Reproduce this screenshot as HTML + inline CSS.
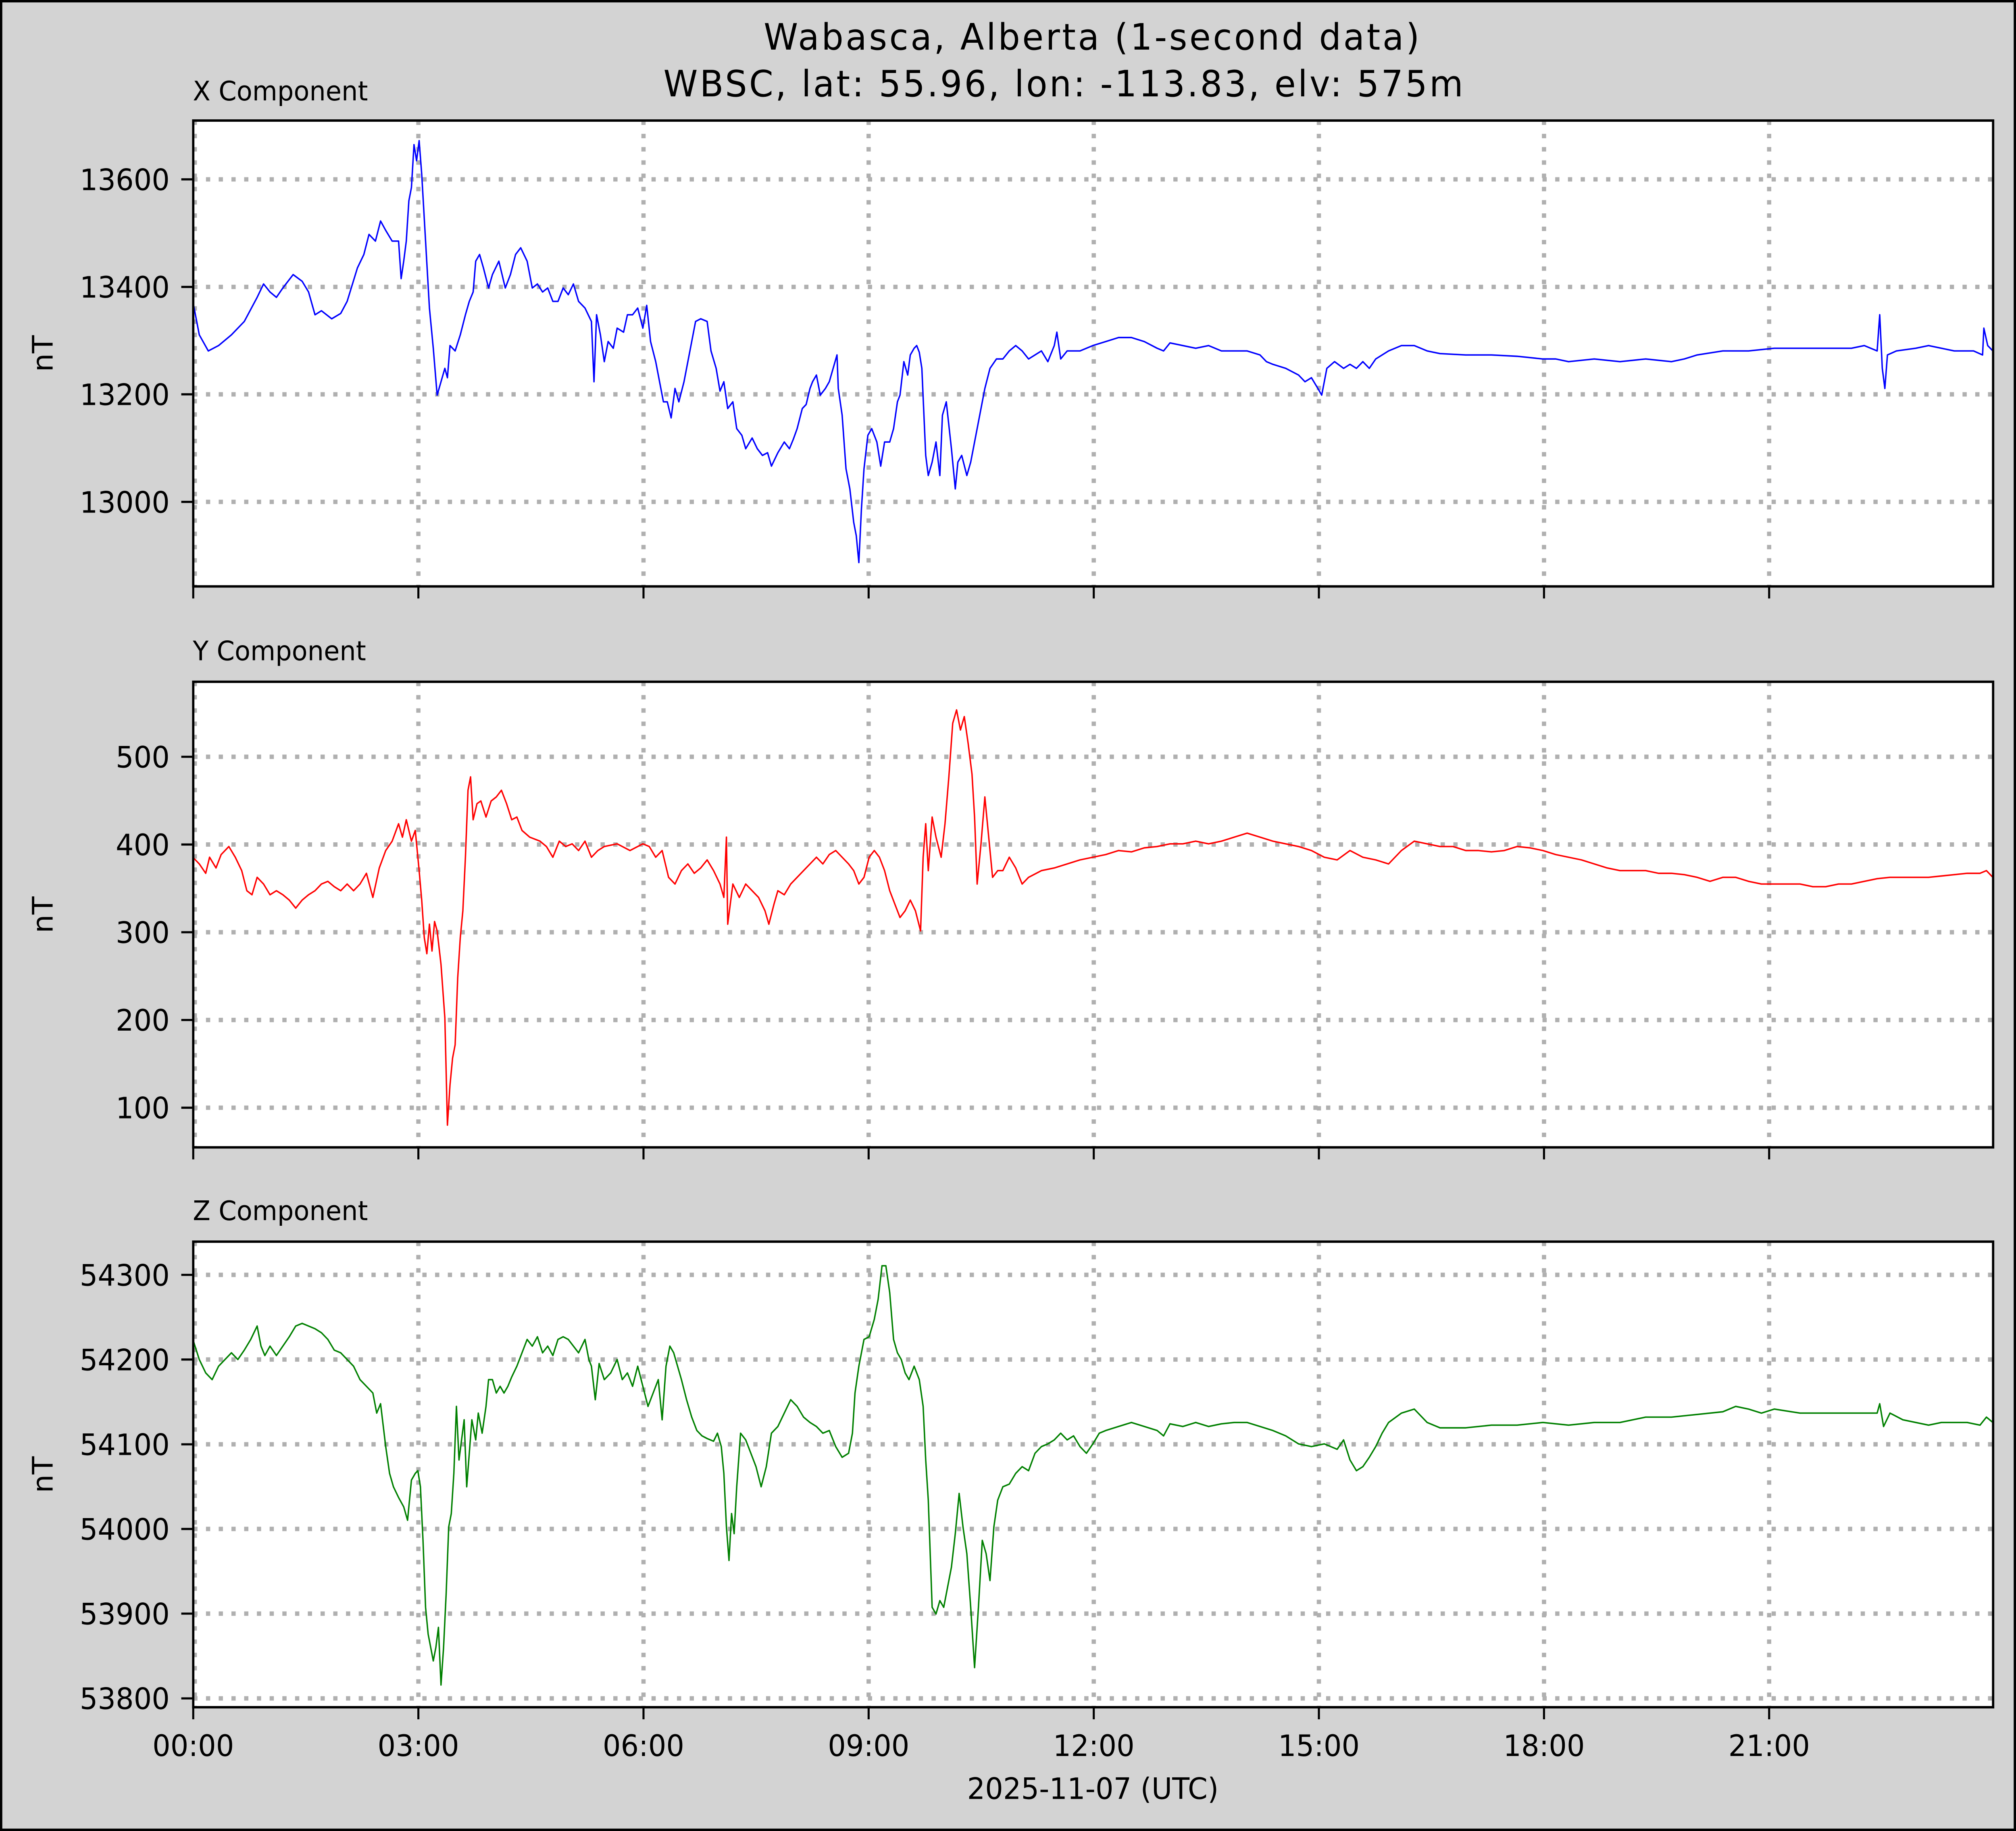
<!DOCTYPE html>
<html><head><meta charset="utf-8"><style>
html,body{margin:0;padding:0;background:#d3d3d3;overflow:hidden;width:100%;height:100%;}
svg{display:block;position:fixed;left:0;top:0;width:100vw;height:100vh;}
text{font-family:"DejaVu Sans","Liberation Sans",sans-serif;fill:#000;}
</style></head><body>
<svg viewBox="0 0 1568 1367" preserveAspectRatio="none" xmlns="http://www.w3.org/2000/svg">
<rect x="0" y="0" width="1568" height="1367" fill="#d3d3d3" stroke="#000" stroke-width="3.6"/>
<text x="849" y="37" font-size="27" text-anchor="middle" textLength="510">Wabasca, Alberta (1-second data)</text>
<text x="827" y="72" font-size="27" text-anchor="middle" textLength="622">WBSC, lat: 55.96, lon: -113.83, elv: 575m</text>

<rect x="150.3" y="90" width="1399.9" height="347.8" fill="#fff"/>
<rect x="150.3" y="509" width="1399.9" height="347.6" fill="#fff"/>
<rect x="150.3" y="927" width="1399.9" height="347.6" fill="#fff"/>

<g stroke="#b0b0b0" stroke-width="3.3" stroke-dasharray="3.3 6.6" fill="none">
<path d="M151.5,90V437.8M325.4,90V437.8M500.5,90V437.8M675.6,90V437.8M850.7,90V437.8M1025.8,90V437.8M1200.9,90V437.8M1376,90V437.8"/>
<path d="M151.5,509V856.6M325.4,509V856.6M500.5,509V856.6M675.6,509V856.6M850.7,509V856.6M1025.8,509V856.6M1200.9,509V856.6M1376,509V856.6"/>
<path d="M151.5,927V1274.6M325.4,927V1274.6M500.5,927V1274.6M675.6,927V1274.6M850.7,927V1274.6M1025.8,927V1274.6M1200.9,927V1274.6M1376,927V1274.6"/>
<path d="M150.3,133.9H1550M150.3,214.2H1550M150.3,294.4H1550M150.3,374.7H1550"/>
<path d="M150.3,565H1550M150.3,630.5H1550M150.3,696H1550M150.3,761.5H1550M150.3,827H1550"/>
<path d="M150.3,951.8H1550M150.3,1015H1550M150.3,1078.3H1550M150.3,1141.5H1550M150.3,1204.7H1550M150.3,1268H1550"/>
</g>

<g fill="none" stroke-width="1.1" stroke-linejoin="round">
<polyline stroke="#0000ff" points="150,225 155,250 162,262 170,258 180,250 190,240 200,222 205,212 210,218 215,222 220,215 228,205 235,210 240,218 245,235 250,232 258,238 265,234 270,225 278,200 283,190 287,175 292,180 296,165 300,172 305,180 310,180 312,208 314,195 316,180 318,150 320,140 322,108 324,120 326,105 328,130 331,180 334,230 337,260 340,295 343,285 346,275 348,282 350,258 354,262 358,250 362,235 365,225 368,218 370,195 373,190 376,200 380,215 383,205 388,195 393,215 397,205 401,190 405,185 410,195 414,215 418,212 422,218 426,215 430,225 434,225 438,215 442,220 446,212 450,225 455,230 460,240 462,285 464,235 467,250 470,270 473,255 477,260 480,245 485,248 488,235 492,235 496,230 500,245 503,228 506,255 510,270 514,290 516,300 519,300 522,312 525,290 528,300 532,285 535,270 538,255 541,240 545,238 550,240 553,262 557,275 560,292 563,285 566,305 570,300 573,320 577,325 580,335 585,327 589,335 593,340 597,338 600,348 605,338 610,330 614,335 617,328 620,320 624,305 627,302 630,290 632,285 635,280 638,295 642,290 645,285 648,275 651,265 652,290 655,310 658,350 661,365 664,390 666,400 668,420 670,380 672,350 675,325 678,320 682,330 685,348 688,330 692,330 695,320 698,300 700,295 703,270 706,280 708,265 711,260 713,258 715,263 717,275 720,340 722,355 725,345 728,330 731,355 733,310 736,300 740,335 743,365 745,345 748,340 752,355 755,345 758,330 762,310 766,290 770,275 775,268 780,268 785,262 790,258 795,262 800,268 805,265 810,262 815,270 820,258 822,248 825,268 830,262 835,262 840,262 845,260 850,258 860,255 870,252 880,252 890,255 900,260 905,262 910,256 920,258 930,260 940,258 950,262 960,262 970,262 980,265 985,270 990,272 1000,275 1010,280 1015,285 1020,282 1025,290 1028,295 1032,275 1038,270 1045,275 1050,272 1055,275 1060,270 1065,275 1070,268 1080,262 1090,258 1100,258 1110,262 1120,264 1140,265 1160,265 1180,266 1200,268 1210,268 1220,270 1240,268 1260,270 1280,268 1300,270 1310,268 1320,265 1340,262 1360,262 1380,260 1400,260 1420,260 1440,260 1450,258 1460,262 1462,235 1464,275 1466,290 1468,265 1475,262 1490,260 1500,258 1510,260 1520,262 1535,262 1542,265 1543,245 1546,258 1550,262"/>
<polyline stroke="#ff0000" points="150,640 155,645 160,652 163,640 168,648 172,638 178,632 183,640 188,650 192,665 196,668 200,655 205,660 210,668 215,665 220,668 225,672 230,678 235,672 240,668 245,665 250,660 255,658 260,662 265,665 270,660 275,665 280,660 285,652 290,670 295,648 300,635 305,628 310,615 313,625 316,612 320,628 323,620 326,650 328,672 330,700 332,712 334,690 336,710 338,688 340,695 343,720 346,760 348,840 350,810 352,790 354,780 356,730 358,700 360,680 362,640 364,590 366,580 368,612 371,600 374,598 378,610 382,598 386,595 390,590 394,600 398,612 402,610 406,620 412,625 420,628 425,632 430,640 435,628 440,632 445,630 450,635 455,628 460,640 465,635 470,632 480,630 490,635 500,630 505,632 510,640 515,635 520,655 525,660 530,650 535,645 540,652 545,648 550,642 555,650 560,660 563,670 565,625 566,690 568,675 570,660 575,670 580,660 585,665 590,670 595,680 598,690 602,675 605,665 610,668 615,660 620,655 625,650 630,645 635,640 640,645 645,638 650,635 655,640 660,645 664,650 668,660 672,655 676,640 680,635 684,640 688,650 692,665 696,675 700,685 704,680 708,672 712,680 716,695 718,640 720,615 722,650 725,610 728,625 732,640 735,615 738,580 741,540 744,530 747,545 750,535 753,555 756,578 758,610 760,660 763,630 766,595 769,625 772,655 776,650 780,650 785,640 790,648 795,660 800,655 810,650 820,648 830,645 840,642 850,640 860,638 870,635 880,636 890,633 900,632 910,630 920,630 930,628 940,630 950,628 960,625 970,622 980,625 990,628 1000,630 1010,632 1020,635 1030,640 1040,642 1050,635 1060,640 1070,642 1080,645 1090,635 1100,628 1110,630 1120,632 1130,632 1140,635 1150,635 1160,636 1170,635 1180,632 1190,633 1200,635 1210,638 1220,640 1230,642 1240,645 1250,648 1260,650 1270,650 1280,650 1290,652 1300,652 1310,653 1320,655 1330,658 1340,655 1350,655 1360,658 1370,660 1380,660 1390,660 1400,660 1410,662 1420,662 1430,660 1440,660 1450,658 1460,656 1470,655 1480,655 1490,655 1500,655 1510,654 1520,653 1530,652 1540,652 1545,650 1550,655"/>
<polyline stroke="#008000" points="150,1000 155,1015 160,1025 165,1030 170,1020 175,1015 180,1010 185,1015 190,1008 195,1000 200,990 203,1005 206,1012 210,1005 215,1012 220,1005 225,998 230,990 235,988 240,990 245,992 250,995 255,1000 260,1008 265,1010 270,1015 275,1020 280,1030 285,1035 290,1040 293,1055 296,1048 300,1080 303,1100 306,1110 310,1118 314,1125 317,1135 320,1105 323,1100 325,1098 327,1110 329,1150 331,1200 333,1220 335,1230 337,1240 339,1230 341,1215 343,1258 345,1230 347,1190 349,1140 351,1130 353,1100 355,1050 357,1090 359,1075 361,1060 363,1110 365,1085 367,1060 370,1075 372,1055 375,1070 378,1050 380,1030 383,1030 386,1040 389,1035 392,1040 395,1035 398,1028 402,1020 406,1010 410,1000 414,1005 418,998 422,1010 426,1005 430,1012 434,1000 438,998 442,1000 446,1005 450,1010 455,1000 458,1015 460,1020 463,1045 466,1018 470,1030 475,1025 480,1015 484,1030 488,1025 492,1035 496,1020 500,1035 504,1050 508,1040 512,1030 515,1060 518,1020 521,1005 524,1010 527,1020 530,1030 534,1045 538,1058 542,1068 546,1072 550,1074 555,1076 558,1070 561,1080 563,1100 565,1140 567,1165 569,1130 571,1145 573,1110 576,1070 580,1075 584,1085 588,1095 592,1110 596,1095 600,1070 605,1065 610,1055 615,1045 620,1050 625,1058 630,1062 635,1065 640,1070 645,1068 650,1080 655,1088 660,1085 663,1070 665,1040 668,1020 672,1000 676,998 680,985 683,970 686,945 689,945 692,965 695,1000 698,1010 701,1015 704,1025 707,1030 711,1020 715,1030 718,1050 720,1090 722,1120 725,1200 728,1205 731,1195 734,1200 737,1185 740,1170 743,1145 746,1115 749,1140 752,1160 755,1200 758,1245 761,1200 764,1150 767,1160 770,1180 773,1140 776,1120 780,1110 785,1108 790,1100 795,1095 800,1098 805,1085 810,1080 815,1078 820,1075 825,1070 830,1075 835,1072 840,1080 845,1085 850,1078 855,1070 860,1068 870,1065 880,1062 890,1065 900,1068 905,1072 910,1063 920,1065 930,1062 940,1065 950,1063 960,1062 970,1062 980,1065 990,1068 1000,1072 1010,1078 1020,1080 1030,1078 1040,1082 1045,1075 1050,1090 1055,1098 1060,1095 1065,1088 1070,1080 1075,1070 1080,1062 1090,1055 1100,1052 1110,1062 1120,1066 1140,1066 1160,1064 1180,1064 1200,1062 1220,1064 1240,1062 1260,1062 1280,1058 1300,1058 1320,1056 1340,1054 1350,1050 1360,1052 1370,1055 1380,1052 1400,1055 1420,1055 1440,1055 1460,1055 1462,1048 1465,1065 1470,1055 1480,1060 1490,1062 1500,1064 1510,1062 1520,1062 1530,1062 1540,1064 1545,1058 1550,1062"/>
</g>

<g fill="none" stroke="#000" stroke-width="1.8">
<rect x="150.3" y="90" width="1399.9" height="347.8"/>
<rect x="150.3" y="509" width="1399.9" height="347.6"/>
<rect x="150.3" y="927" width="1399.9" height="347.6"/>
</g>
<g stroke="#000" stroke-width="1.6">
<path d="M141,133.9H150M141,214.2H150M141,294.4H150M141,374.7H150"/>
<path d="M141,565H150M141,630.5H150M141,696H150M141,761.5H150M141,827H150"/>
<path d="M141,951.8H150M141,1015H150M141,1078.3H150M141,1141.5H150M141,1204.7H150M141,1268H150"/>
<path d="M150.3,437.8v9M325.4,437.8v9M500.5,437.8v9M675.6,437.8v9M850.7,437.8v9M1025.8,437.8v9M1200.9,437.8v9M1376,437.8v9"/>
<path d="M150.3,856.6v9M325.4,856.6v9M500.5,856.6v9M675.6,856.6v9M850.7,856.6v9M1025.8,856.6v9M1200.9,856.6v9M1376,856.6v9"/>
<path d="M150.3,1274.6v9M325.4,1274.6v9M500.5,1274.6v9M675.6,1274.6v9M850.7,1274.6v9M1025.8,1274.6v9M1200.9,1274.6v9M1376,1274.6v9"/>
</g>

<g font-size="20">
<text x="150" y="75">X Component</text>
<text x="150" y="493">Y Component</text>
<text x="150" y="911">Z Component</text>
</g>

<g font-size="22" text-anchor="end">
<text x="132" y="141.9">13600</text><text x="132" y="222.2">13400</text><text x="132" y="302.4">13200</text><text x="132" y="382.7">13000</text>
<text x="132" y="573">500</text><text x="132" y="638.5">400</text><text x="132" y="704">300</text><text x="132" y="769.5">200</text><text x="132" y="835">100</text>
<text x="132" y="959.8">54300</text><text x="132" y="1023">54200</text><text x="132" y="1086.3">54100</text><text x="132" y="1149.5">54000</text><text x="132" y="1212.7">53900</text><text x="132" y="1276">53800</text>
</g>
<g font-size="22" text-anchor="middle">
<text x="150.3" y="1311">00:00</text><text x="325.4" y="1311">03:00</text><text x="500.5" y="1311">06:00</text><text x="675.6" y="1311">09:00</text><text x="850.7" y="1311">12:00</text><text x="1025.8" y="1311">15:00</text><text x="1200.9" y="1311">18:00</text><text x="1376" y="1311">21:00</text>
<text x="850" y="1343">2025-11-07 (UTC)</text>
<text transform="translate(41,264) rotate(-90)">nT</text>
<text transform="translate(41,683) rotate(-90)">nT</text>
<text transform="translate(41,1101) rotate(-90)">nT</text>
</g>
</svg>
</body></html>
